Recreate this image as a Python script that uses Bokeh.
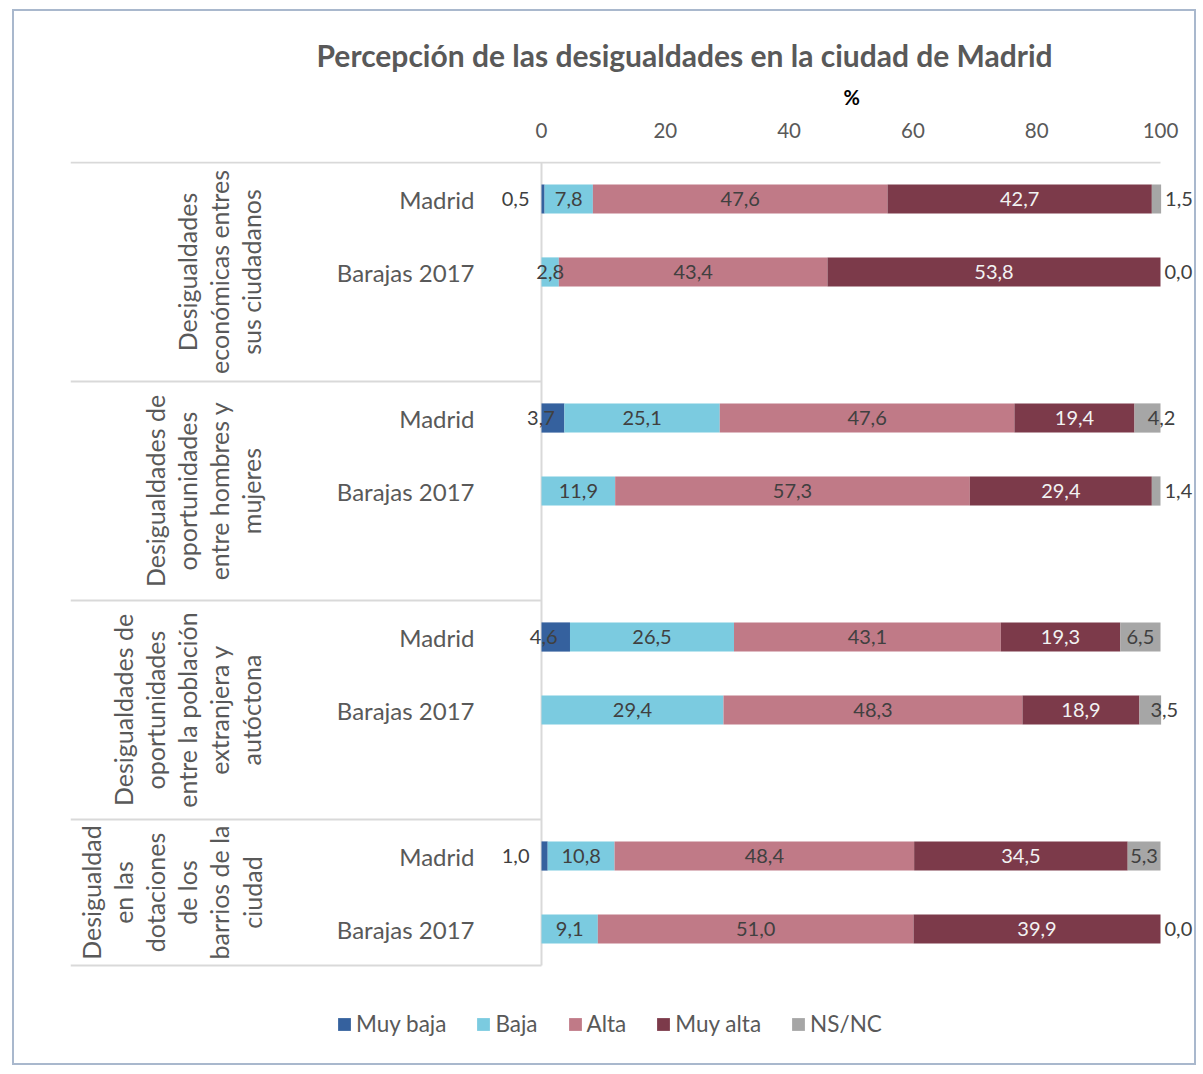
import math
from bokeh.plotting import figure
from bokeh.models import (ColumnDataSource, Range1d, LinearAxis, FixedTicker, Title,
                          Legend, LegendItem)
from bokeh.embed import file_html
from bokeh.resources import INLINE
from bokeh.core.properties import value

# ---------------- data ----------------
chart_title = "Percepción de las desigualdades en la ciudad de Madrid"
axis_title = "%"
group_labels = [
    "Desigualdades\neconómicas entres\nsus ciudadanos",
    "Desigualdades de\noportunidades\nentre hombres y\nmujeres",
    "Desigualdades de\noportunidades\nentre la población\nextranjera y\nautóctona",
    "Desigualdad\nen las\ndotaciones\nde los\nbarrios de la\nciudad",
]
row_labels = ["Madrid", "Barajas 2017"]
series_names = ["Muy baja", "Baja", "Alta", "Muy alta", "NS/NC"]
# rows: group1 Madrid, group1 Barajas, group2 Madrid, ...
muy_baja = [0.5, None, 3.7, None, 4.6, None, 1.0, None]
baja     = [7.8, 2.8, 25.1, 11.9, 26.5, 29.4, 10.8, 9.1]
alta     = [47.6, 43.4, 47.6, 57.3, 43.1, 48.3, 48.4, 51.0]
muy_alta = [42.7, 53.8, 19.4, 29.4, 19.3, 18.9, 34.5, 39.9]
ns_nc    = [1.5, 0.0, 4.2, 1.4, 6.5, 3.5, 5.3, 0.0]
x_ticks = [0, 20, 40, 60, 80, 100]

series = [muy_baja, baja, alta, muy_alta, ns_nc]
colors = ["#35619E", "#7BCBE0", "#C07A87", "#7C3A4A", "#A6A6A6"]
label_colors = ["#404040", "#404040", "#404040", "#F2F2F2", "#404040"]

FONT = "Lato"
TXT = "#595959"

# ---------------- layout ----------------
W, H = 1184, 1056
MB_L, MB_R, MB_T, MB_B = 56, 1, 150, 17
frame_w = W - MB_L - MB_R
frame_h = H - MB_T - MB_B
ZERO_PX = 471          # pixel distance from frame left to value 0
SCALE = 6.19           # px per percent unit
SLOT = 73.0            # px per category slot
x0 = -ZERO_PX / SCALE
x1 = x0 + frame_w / SCALE
y_top = -1.0 / SLOT
y_bot = y_top + frame_h / SLOT

p = figure(width=W, height=H, output_backend="svg", toolbar_location=None,
           x_range=Range1d(x0, x1), y_range=Range1d(y_bot, y_top),
           x_axis_location=None, y_axis_location=None,
           min_border_left=MB_L, min_border_right=MB_R,
           min_border_top=MB_T, min_border_bottom=MB_B)
p.styles = {"border": "2px solid #A9B8CD", "margin-left": "12px", "margin-top": "9px"}
p.outline_line_color = None
p.xgrid.visible = False
p.ygrid.visible = False
p.background_fill_color = "white"
p.border_fill_color = "white"

# slot layout: each group has its rows plus a blank slot (except last)
n_groups = len(group_labels)
row_y = []
group_bounds = []
slot = 0
for gi in range(n_groups):
    start = slot
    for j in range(len(row_labels)):
        row_y.append(slot + 0.5)
        slot += 1
    if gi < n_groups - 1:
        slot += 1
    group_bounds.append((start, slot))
total_slots = slot

# separator lines
sep_x0, sep_x1, sep_y = [], [], []
for gi, (a, b) in enumerate(group_bounds):
    sep_x0.append(x0); sep_y.append(a)
    sep_x1.append(x_ticks[-1] if gi == 0 else 0)
sep_x0.append(x0); sep_x1.append(0); sep_y.append(total_slots)
p.segment(x0=sep_x0, y0=sep_y, x1=sep_x1, y1=sep_y, line_color="#D9D9D9", line_width=2)
p.segment(x0=[0], y0=[0], x1=[0], y1=[total_slots], line_color="#D9D9D9", line_width=2)

# stacked bars
n_rows = len(row_y)
cum = [0.0] * n_rows
renderers = []
lab_center = dict(x=[], y=[], text=[], off=[], color=[])
lab_right = dict(x=[], y=[], text=[], off=[], color=[])
lab_left = dict(x=[], y=[], text=[], off=[], color=[])
for si, vals in enumerate(series):
    left = []
    right = []
    for r in range(n_rows):
        v = vals[r] if vals[r] is not None else 0.0
        left.append(cum[r])
        right.append(cum[r] + v)
    src = ColumnDataSource(dict(y=row_y, left=left, right=right))
    rr = p.hbar(y="y", left="left", right="right", height=0.4, source=src,
                fill_color=colors[si], line_color=None)
    renderers.append(rr)
    for r in range(n_rows):
        v = vals[r]
        if v is None:
            continue
        txt = f"{v:.1f}".replace(".", ",")
        c = (left[r] + right[r]) / 2
        col = label_colors[si]
        if si == 0 and v < 2:
            tgt = lab_right; x = left[r]; off = -12
        elif si == 0:
            tgt = lab_center; x = c; off = -12
        elif si == len(series) - 1 and v < 2:
            tgt = lab_left; x = right[r]; off = 4
        elif si == len(series) - 1 and v < 5:
            tgt = lab_center; x = c; off = 14
        else:
            tgt = lab_center; x = c; off = 0
        tgt["x"].append(x); tgt["y"].append(row_y[r]); tgt["text"].append(txt)
        tgt["off"].append(off); tgt["color"].append(col)
    cum = right

for d, align in ((lab_center, "center"), (lab_right, "right"), (lab_left, "left")):
    p.text(x="x", y="y", text="text", x_offset="off", text_color="color",
           source=ColumnDataSource(d), text_align=align, text_baseline="middle",
           text_font=value(FONT), text_font_size="20px")

# category labels
cat_t = [row_labels[i % len(row_labels)] for i in range(n_rows)]
p.text(x=[0] * n_rows, y=row_y, text=cat_t, x_offset=-67, text_align="right",
       text_baseline="middle", text_font=value(FONT), text_font_size="24px", text_color=TXT)

# group labels (rotated)
g_y = [(a + b) / 2 for a, b in group_bounds]
p.text(x=[0] * n_groups, y=g_y, text=group_labels, x_offset=-275, angle=math.pi / 2,
       text_align="center", text_baseline="bottom", text_line_height=1.07,
       text_font=value(FONT), text_font_size="25px", text_color=TXT)

# top axis
ax = LinearAxis(ticker=FixedTicker(ticks=x_ticks))
ax.axis_line_color = None
ax.major_tick_line_color = None
ax.minor_tick_line_color = None
ax.major_label_text_font = FONT
ax.major_label_text_font_size = "20.5px"
ax.major_label_text_color = TXT
ax.major_label_standoff = 18
p.add_layout(ax, "above")

# axis title "%" over the middle of the 0-100 scale, then the chart title
p.add_layout(Title(text=axis_title, align="left", offset=773, standoff=21, text_font=FONT,
                   text_font_size="20px", text_font_style="bold", text_color="#000000"), "above")
p.add_layout(Title(text=chart_title, align="left", offset=246, standoff=0, text_font=FONT,
                   text_font_size="30px", text_font_style="bold", text_color=TXT), "above")

legend = Legend(items=[LegendItem(label=n, renderers=[r]) for n, r in zip(series_names, renderers)],
                orientation="horizontal", location=(266, 13))
legend.glyph_width = 16
legend.glyph_height = 16
legend.label_standoff = 4
legend.spacing = 29
legend.padding = 0
legend.margin = 0
legend.border_line_color = None
legend.background_fill_alpha = 0
legend.label_text_font = FONT
legend.label_text_font_size = "22.5px"
legend.label_text_color = TXT
p.add_layout(legend)

open("out.html", "w").write(file_html(p, INLINE))
